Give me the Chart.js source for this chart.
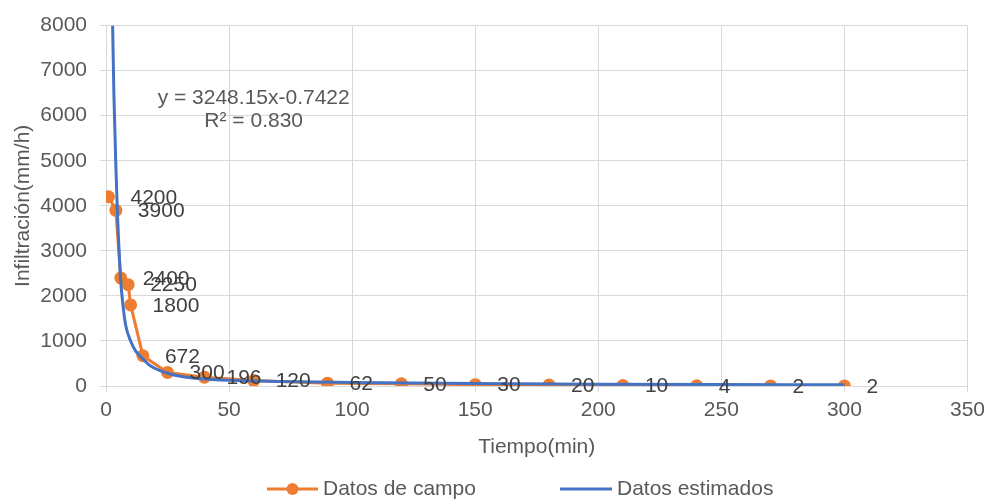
<!DOCTYPE html>
<html><head><meta charset="utf-8">
<script src="https://cdn.jsdelivr.net/npm/chart.js@4/dist/chart.umd.min.js"></script>
<style>html,body{margin:0;padding:0;background:#fff}#wrap{width:991px;height:500px;position:relative}</style>
</head><body><div id="wrap"><canvas id="c" width="991" height="500"></canvas></div>
<script>
const campoTiempo = [1, 4, 6, 9, 10, 15, 25, 40, 60, 90, 120, 150, 180, 210, 240, 270, 300];
const campoInfiltracion = [4200, 3900, 2400, 2250, 1800, 672, 300, 196, 120, 62, 50, 30, 20, 10, 4, 2, 2];
const estimadoTiempo = [2.7, 3.2, 4, 4.6, 5.9, 6.7, 8, 10, 12, 15, 18, 22, 28, 38, 50, 70, 100, 150, 200, 250, 300];
const estimadoInfiltracion = [8000, 6500, 4900, 3900, 2400, 1890, 1350, 1000, 780, 600, 450, 340, 240, 165, 125, 100, 80, 55, 40, 32, 28];
const xTicks = [0, 50, 100, 150, 200, 250, 300, 350];
const yTicks = [0, 1000, 2000, 3000, 4000, 5000, 6000, 7000, 8000];
const seriesNames = ['Datos de campo', 'Datos estimados'];
const xTitle = 'Tiempo(min)';
const yTitle = 'Infiltración(mm/h)';
const ecuacion = ['y = 3248.15x-0.7422', 'R² = 0.830'];
const ecuacionPos = {x: 60, y: [6380, 5870]};

const ORANGE = '#ED7D31', BLUE = '#4472C4', GRID = '#D9D9D9', TXT = '#595959', LBL = '#404040';
const FONT = "'Liberation Sans', Arial, sans-serif";
Chart.defaults.font.family = FONT;
Chart.defaults.font.size = 21;
Chart.defaults.color = TXT;

const toPts = (xs, ys) => xs.map((x, i) => ({x: x, y: ys[i]}));

const labelsPlugin = {
  id: 'extras',
  afterDatasetsDraw(chart) {
    const ctx = chart.ctx;
    const meta = chart.getDatasetMeta(1);
    ctx.save();
    ctx.font = '21px ' + FONT;
    ctx.fillStyle = LBL;
    ctx.textAlign = 'left';
    ctx.textBaseline = 'middle';
    meta.data.forEach((pt, i) => {
      ctx.fillText(String(campoInfiltracion[i]), pt.x + 22, pt.y + 1);
    });
    const xs = chart.scales.x, ys = chart.scales.y;
    ctx.fillStyle = TXT;
    ctx.textAlign = 'center';
    ecuacion.forEach((t, i) => {
      ctx.fillText(t, xs.getPixelForValue(ecuacionPos.x), ys.getPixelForValue(ecuacionPos.y[i]));
    });
    ctx.restore();
  },
  afterDraw(chart) {
    const ctx = chart.ctx;
    const y = 489;
    ctx.save();
    ctx.font = '21px ' + FONT;
    ctx.textBaseline = 'middle';
    ctx.textAlign = 'left';
    ctx.lineWidth = 3;
    ctx.strokeStyle = ORANGE;
    ctx.beginPath(); ctx.moveTo(267, y); ctx.lineTo(318, y); ctx.stroke();
    ctx.fillStyle = ORANGE;
    ctx.beginPath(); ctx.arc(292.5, y, 6, 0, Math.PI * 2); ctx.fill();
    ctx.fillStyle = TXT;
    ctx.fillText(seriesNames[0], 323, y);
    ctx.strokeStyle = BLUE;
    ctx.beginPath(); ctx.moveTo(560, y); ctx.lineTo(612, y); ctx.stroke();
    ctx.fillText(seriesNames[1], 617, y);
    ctx.restore();
  }
};

new Chart(document.getElementById('c'), {
  type: 'scatter',
  data: {
    datasets: [
      {
        label: seriesNames[1],
        data: toPts(estimadoTiempo, estimadoInfiltracion),
        showLine: true,
        borderColor: BLUE,
        backgroundColor: BLUE,
        borderWidth: 3,
        pointRadius: 0,
        cubicInterpolationMode: 'monotone',
        order: 0
      },
      {
        label: seriesNames[0],
        data: toPts(campoTiempo, campoInfiltracion),
        showLine: true,
        borderColor: ORANGE,
        backgroundColor: ORANGE,
        borderWidth: 3,
        pointRadius: 6.5,
        pointBorderWidth: 0,
        pointBackgroundColor: ORANGE,
        tension: 0,
        order: 1
      }
    ]
  },
  options: {
    responsive: false,
    devicePixelRatio: 1,
    animation: false,
    layout: {padding: {top: 21, right: 22, bottom: 40, left: 0}},
    plugins: {legend: {display: false}, tooltip: {enabled: false}},
    scales: {
      x: {
        type: 'linear', min: 0, max: 350,
        afterBuildTicks: s => { s.ticks = xTicks.map(v => ({value: v})); },
        afterFit: s => { s.height = 74; },
        grid: {color: GRID, lineWidth: 1, tickLength: 6, drawTicks: true},
        border: {color: GRID, width: 1},
        ticks: {color: TXT, padding: 6, maxRotation: 0, font: {size: 21}, callback: v => String(v)},
        title: {display: true, text: xTitle, color: TXT, font: {size: 21}, padding: {top: 0, bottom: 0}}
      },
      y: {
        type: 'linear', min: 0, max: 8000,
        afterBuildTicks: s => { s.ticks = yTicks.map(v => ({value: v})); },
        afterFit: s => { s.width = 106; },
        grid: {color: GRID, lineWidth: 1, tickLength: 6, drawTicks: true},
        border: {color: GRID, width: 1},
        ticks: {color: TXT, padding: 13, font: {size: 21}, callback: v => String(v)},
        title: {display: true, text: yTitle, color: TXT, font: {size: 21}, padding: {top: 11, bottom: 0}}
      }
    }
  },
  plugins: [labelsPlugin]
});
</script>
</body></html>
